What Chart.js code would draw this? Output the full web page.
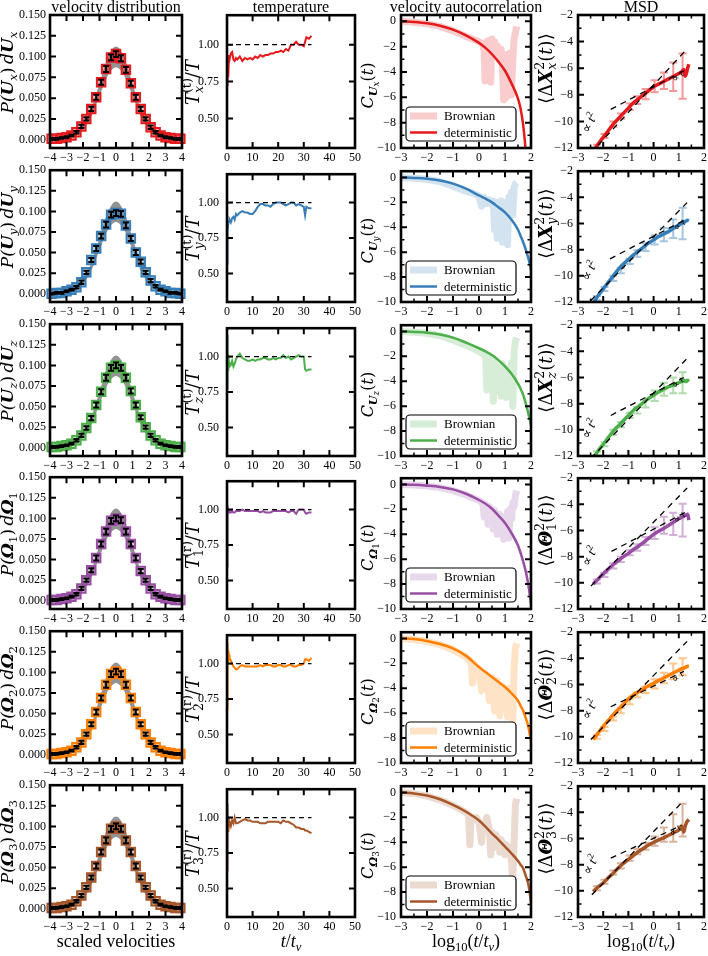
<!DOCTYPE html>
<html>
<head>
<meta charset="utf-8">
<title>velocity statistics</title>
<script src="https://cdn.jsdelivr.net/npm/chart.js@4.4.1/dist/chart.umd.min.js"></script>
<style>
html,body{margin:0;padding:0;background:#fff}
#wrap{position:relative;width:708px;height:956px;overflow:hidden;background:#fff}
#wrap canvas{position:absolute}
</style>
</head>
<body>
<div id="wrap"></div>
<script>
// ---------- labels ----------
const titles = ['velocity distribution', 'temperature', 'velocity autocorrelation', 'MSD']
const compSym = ['U', 'U', 'U', 'Ω', 'Ω', 'Ω']
const compIdx = ['x', 'y', 'z', '1', '2', '3']
const tempSup = ['(t)', '(t)', '(t)', '(r)', '(r)', '(r)']
const msdSym = ['X', 'X', 'X', 'Θ', 'Θ', 'Θ']
const colors = ['#e41a1c', '#377eb8', '#4daf4a', '#984ea3', '#ff7f00', '#a65628']

// ---------- column 1: velocity distribution ----------
const distTicksX = [-4, -3, -2, -1, 0, 1, 2, 3, 4]
const distTicksY = [0, 0.025, 0.05, 0.075, 0.1, 0.125, 0.15]
const distX = [-3.9,-3.6,-3.3,-3.0,-2.7,-2.4,-2.1,-1.8,-1.5,-1.2,-0.9,-0.6,-0.3,0,0.3,0.6,0.9,1.2,1.5,1.8,2.1,2.4,2.7,3.0,3.3,3.6,3.9]
const pUx = [0.001,0.001,0.002,0.003,0.005,0.009,0.016,0.025,0.037,0.051,0.069,0.085,0.099,0.103,0.098,0.084,0.068,0.051,0.037,0.025,0.015,0.009,0.005,0.003,0.002,0.001,0.001]
const pUy = [0.000,0.001,0.001,0.003,0.005,0.008,0.014,0.026,0.041,0.055,0.070,0.084,0.096,0.098,0.097,0.083,0.067,0.050,0.039,0.026,0.016,0.009,0.005,0.003,0.001,0.001,0.000]
const pUz = [0.001,0.001,0.002,0.003,0.005,0.009,0.015,0.024,0.036,0.052,0.068,0.085,0.097,0.100,0.097,0.085,0.069,0.052,0.037,0.025,0.015,0.009,0.005,0.003,0.002,0.001,0.001]
const pW1 = [0.001,0.001,0.002,0.003,0.005,0.008,0.015,0.025,0.037,0.052,0.069,0.084,0.097,0.100,0.098,0.084,0.069,0.052,0.036,0.025,0.015,0.008,0.005,0.003,0.002,0.001,0.001]
const pW2 = [0.001,0.001,0.002,0.003,0.005,0.009,0.015,0.025,0.037,0.052,0.069,0.085,0.098,0.101,0.098,0.085,0.069,0.052,0.037,0.025,0.015,0.009,0.005,0.003,0.002,0.001,0.001]
const pW3 = [0.001,0.001,0.002,0.003,0.005,0.009,0.016,0.026,0.038,0.052,0.069,0.083,0.097,0.100,0.097,0.083,0.069,0.052,0.038,0.026,0.016,0.009,0.005,0.003,0.002,0.001,0.001]
const distErr = [0.001,0.001,0.001,0.001,0.001,0.0015,0.002,0.002,0.0025,0.003,0.003,0.0035,0.0035,0.0035,0.0035,0.0035,0.003,0.003,0.0025,0.002,0.002,0.0015,0.001,0.001,0.001,0.001,0.001]
const bandX = [-4,-3.5,-3,-2.5,-2,-1.5,-1,-0.5,0,0.5,1,1.5,2,2.5,3,3.5,4]
const bandLo = [0.000,0.000,0.001,0.004,0.012,0.028,0.053,0.077,0.087,0.077,0.053,0.028,0.012,0.004,0.001,0.000,0.000]
const bandHi = [0.000,0.001,0.002,0.006,0.017,0.037,0.068,0.099,0.112,0.099,0.068,0.037,0.017,0.006,0.002,0.001,0.000]

// ---------- column 2: temperature ----------
const tempTicksX = [0, 10, 20, 30, 40, 50]
const tempTicksY = [0.5, 0.75, 1.0]
const tGrid = [0,0.1,0.3,0.5,0.8,1,1.5,2,2.5,3,3.5,4,5,6,7,8,9,10,11,12,13,14,15,16,17,18,19,20,21,22,23,24,25,26,27,28,29,30,30.5,31,32,33]
const tTx = [0.93,0.72,0.92,0.78,0.93,0.90,0.94,0.95,0.90,0.89,0.91,0.90,0.92,0.89,0.91,0.90,0.91,0.90,0.92,0.91,0.93,0.92,0.93,0.93,0.94,0.94,0.95,0.95,0.96,0.95,0.97,0.96,1.00,1.00,1.02,1.00,1.00,0.99,1.02,1.05,1.04,1.06]
const tTy = [0.57,0.70,0.80,0.85,0.87,0.88,0.86,0.89,0.90,0.88,0.92,0.91,0.93,0.94,0.93,0.93,0.92,0.92,0.94,0.97,0.99,0.99,0.98,0.98,0.97,0.99,1.00,1.00,1.00,0.99,0.98,0.99,1.00,1.00,0.98,0.99,0.98,0.97,0.91,0.97,0.96,0.96]
const tTz = [1.15,0.77,0.98,0.90,0.96,0.93,0.94,0.97,0.93,0.95,0.98,1.00,1.02,0.99,0.98,0.97,0.97,0.98,0.97,0.98,0.98,0.99,0.99,0.98,0.98,0.99,0.98,0.99,0.99,1.01,0.99,1.00,0.98,0.99,1.00,1.01,1.00,1.00,0.91,0.90,0.91,0.91]
const tT1 = [0.60,0.85,0.96,1.00,0.98,0.99,0.98,0.99,0.98,0.98,0.99,0.99,0.99,1.00,0.99,0.99,0.99,0.99,0.99,0.99,0.98,0.99,0.98,0.98,0.98,0.99,0.99,0.99,0.99,0.99,0.99,0.98,0.99,0.99,0.97,1.00,1.00,1.00,0.98,0.97,0.98,0.98]
const tT2 = [0.68,1.15,1.08,1.02,1.06,1.04,1.02,1.00,0.98,0.97,0.96,0.96,0.98,0.99,0.98,0.98,0.98,0.98,0.98,0.98,0.99,0.98,0.99,0.99,0.99,0.98,0.98,0.99,0.99,0.98,0.98,0.99,0.99,0.98,0.98,0.99,0.99,1.00,1.03,1.03,1.02,1.04]
const tT3 = [1.10,0.62,0.95,0.90,0.96,0.97,0.94,0.98,0.96,1.00,0.96,0.96,0.97,0.98,0.99,0.98,0.98,0.97,0.97,0.97,0.96,0.96,0.96,0.97,0.97,0.97,0.97,0.97,0.96,0.98,0.97,0.97,0.96,0.95,0.93,0.93,0.92,0.92,0.91,0.91,0.90,0.89]
const tempRefX = [0, 33]
const tempRef = [1, 1]

// ---------- column 3: velocity autocorrelation ----------
const logTicksX = [-3, -2, -1, 0, 1, 2]
const logMinorX = [-2.5, -1.5, -0.5, 0.5, 1.5]
const corrTicksY = [0, -2, -4, -6, -8, -10]
const corrMinorY = [-1, -3, -5, -7, -9]
const corrX = [-3,-2.5,-2,-1.5,-1,-0.5,0,0.25,0.5,0.75,1,1.25,1.5,1.6,1.7,1.8,1.9,2]
const cUx = [0,-0.05,-0.15,-0.35,-0.65,-1.1,-1.7,-2.1,-2.6,-3.2,-3.9,-4.9,-6.1,-6.9,-8.2,-10.3,-13,-16]
const cUy = [0,-0.04,-0.1,-0.25,-0.5,-0.9,-1.45,-1.7,-2.0,-2.4,-2.8,-3.4,-4.2,-4.7,-5.2,-5.8,-6.5,-7.4]
const cUz = [0,-0.04,-0.1,-0.25,-0.5,-0.9,-1.35,-1.6,-1.9,-2.3,-2.8,-3.4,-4.2,-4.6,-5.1,-5.8,-6.6,-7.5]
const cW1 = [0,-0.03,-0.1,-0.2,-0.4,-0.75,-1.25,-1.55,-1.95,-2.5,-3.1,-3.9,-4.9,-5.5,-6.2,-7.0,-8.1,-9.6]
const cW2 = [0,-0.05,-0.2,-0.45,-0.8,-1.4,-2.3,-2.7,-3.1,-3.5,-3.9,-4.4,-5.0,-5.4,-5.8,-6.4,-7.1,-8.3]
const cW3 = [0,-0.08,-0.25,-0.55,-1.0,-1.55,-2.25,-2.75,-3.3,-3.8,-4.35,-4.9,-5.5,-5.8,-6.1,-6.7,-7.4,-8.8]
// Brownian runs (light, noisy)
const bUxX = [-3,-2.5,-2,-1.5,-1,-0.5,0,0.15,0.2,0.23,0.27,0.3,0.35,0.4,0.45,0.5,0.55,0.6,0.65,0.7,0.75,0.8,0.85,0.9,0.95,1.0,1.05,1.1,1.15,1.2,1.25,1.3,1.35,1.4,1.45]
const bUx = [0,-0.08,-0.2,-0.4,-0.75,-1.2,-1.6,-1.8,-2.4,-4.7,-2.0,-1.6,-4.6,-1.5,-4.8,-1.4,-2.2,-1.6,-2.6,-1.9,-2.2,-3.0,-2.2,-3.6,-6.2,-2.8,-6.0,-2.6,-3.3,-2.5,-5.8,-3.0,-1.4,-0.9,-0.4]
const bUyX = [-3,-2.5,-2,-1.5,-1,-0.5,-0.2,0,0.1,0.15,0.2,0.3,0.4,0.5,0.55,0.6,0.65,0.7,0.75,0.8,0.85,0.9,0.95,1.0,1.05,1.1,1.15,1.2,1.25,1.3,1.35,1.4,1.45]
const bUy = [0,-0.06,-0.15,-0.35,-0.7,-1.1,-1.3,-1.5,-2.3,-1.7,-1.6,-2.1,-1.8,-2.2,-1.9,-4.2,-2.0,-4.9,-2.4,-3.8,-1.9,-5.2,-2.6,-3.2,-2.0,-5.4,-1.6,-2.4,-1.2,-3.0,-0.8,-0.5,-0.4]
const bUzX = [-3,-2.5,-2,-1.5,-1,-0.5,0,0.25,0.3,0.35,0.4,0.5,0.55,0.6,0.7,0.75,0.8,0.85,0.9,0.95,1.0,1.05,1.1,1.2,1.25,1.3,1.35,1.4,1.45]
const bUz = [0,-0.06,-0.15,-0.35,-0.7,-1.1,-1.6,-1.9,-4.7,-2.0,-2.3,-2.4,-5.6,-2.4,-4.8,-2.8,-3.2,-5.2,-2.6,-4.2,-3.1,-5.3,-3.0,-4.0,-2.5,-6.0,-1.6,-0.8,-0.5]
const bW1X = [-3,-2.5,-2,-1.5,-1,-0.5,0,0.15,0.2,0.25,0.3,0.35,0.4,0.5,0.55,0.6,0.65,0.7,0.8,0.85,0.9,0.95,1.0,1.05,1.1,1.15,1.2,1.25,1.3,1.35,1.4,1.45]
const bW1 = [0,-0.05,-0.12,-0.25,-0.5,-0.85,-1.3,-1.5,-2.6,-1.6,-1.7,-3.2,-1.8,-2.0,-3.6,-2.1,-2.3,-4.0,-2.4,-3.0,-2.6,-4.4,-2.8,-3.4,-2.2,-4.3,-2.0,-2.8,-1.5,-1.8,-0.9,-0.5]
const bW2X = [-3,-2.5,-2,-1.5,-1,-0.5,-0.3,-0.25,-0.2,-0.1,0,0.1,0.2,0.3,0.4,0.5,0.6,0.7,0.8,0.9,1.0,1.1,1.15,1.2,1.3,1.35,1.4,1.45]
const bW2 = [0,-0.08,-0.25,-0.5,-0.9,-1.5,-1.9,-3.6,-2.0,-2.4,-2.5,-4.2,-2.8,-3.0,-5.0,-3.2,-5.8,-3.4,-6.2,-3.8,-4.2,-6.3,-4.0,-4.6,-6.5,-2.5,-0.8,-0.4]
const bW3X = [-3,-2.5,-2,-1.5,-1,-0.5,-0.4,-0.35,-0.3,-0.2,-0.1,0,0.1,0.15,0.2,0.3,0.4,0.45,0.5,0.6,0.65,0.7,0.8,0.85,0.9,1.0,1.05,1.1,1.2,1.3,1.35,1.4,1.45]
const bW3 = [0,-0.1,-0.3,-0.6,-1.05,-1.6,-1.8,-4.2,-2.0,-2.2,-2.0,-2.4,-4.0,-2.6,-2.7,-2.0,-3.0,-5.0,-3.2,-4.4,-3.4,-3.6,-4.8,-3.8,-4.0,-5.0,-4.2,-4.5,-4.4,-7.0,-4.0,-1.0,-0.5]

// ---------- column 4: MSD ----------
const msdTicksY = [-2, -4, -6, -8, -10, -12]
const msdMinorY = [-3, -5, -7, -9, -11]
const msdX = [-2.4,-2.2,-2.0,-1.8,-1.6,-1.4,-1.2,-1.0,-0.8,-0.6,-0.4,-0.2,0,0.2,0.4,0.6,0.8,1.0,1.1,1.2,1.25,1.3,1.35,1.4]
const mUx = [-12.3,-11.7,-11.2,-10.7,-10.2,-9.8,-9.4,-9.0,-8.6,-8.3,-8.0,-7.7,-7.4,-7.2,-7.0,-6.8,-6.6,-6.4,-6.3,-6.1,-6.6,-6.4,-6.0,-5.7]
const mUy = [-12.1,-11.5,-11.0,-10.5,-10.0,-9.5,-9.1,-8.75,-8.4,-8.1,-7.8,-7.5,-7.25,-7.0,-6.8,-6.6,-6.35,-6.1,-6.0,-5.9,-5.85,-5.8,-5.75,-5.8]
const mUz = [-12.2,-11.6,-11.1,-10.6,-10.1,-9.7,-9.3,-8.9,-8.5,-8.2,-7.9,-7.6,-7.35,-7.1,-6.9,-6.7,-6.55,-6.4,-6.3,-6.2,-6.3,-6.3,-6.2,-6.3]
const mW1 = [-10.1,-9.7,-9.3,-8.95,-8.6,-8.3,-8.0,-7.75,-7.45,-7.2,-6.9,-6.6,-6.3,-6.05,-5.85,-5.6,-5.35,-5.1,-5.0,-4.9,-4.85,-4.8,-4.75,-5.2]
const mW2 = [-10.2,-9.7,-9.2,-8.75,-8.3,-7.9,-7.5,-7.1,-6.8,-6.55,-6.3,-6.1,-5.9,-5.7,-5.5,-5.3,-5.1,-4.9,-4.8,-4.75,-4.7,-4.65,-4.6,-4.6]
const mW3 = [-10.05,-9.7,-9.4,-9.0,-8.65,-8.25,-7.9,-7.6,-7.3,-7.0,-6.75,-6.5,-6.3,-6.1,-5.95,-5.75,-5.55,-5.35,-5.05,-5.5,-5.1,-4.8,-4.65,-4.55]
const errX = [-2.25,-1.95,-1.6,-1.3,-0.95,-0.65,-0.32,0.04,0.41,0.78,1.15]
const eUx = [-11.9,-11.1,-10.2,-9.6,-8.9,-8.4,-7.95,-7.35,-6.95,-6.65,-6.6]
const hUx = [0.15,0.15,0.2,0.2,0.25,0.3,0.38,0.45,0.62,1.07,1.7]
const eUy = [-11.7,-11.0,-10.2,-9.6,-8.9,-8.3,-7.8,-7.25,-6.85,-6.4,-6.0]
const hUy = [0.15,0.15,0.2,0.2,0.2,0.25,0.3,0.35,0.5,0.7,1.2]
const eUz = [-11.8,-11.1,-10.2,-9.6,-8.9,-8.5,-8.0,-7.4,-6.9,-6.6,-6.4]
const hUz = [0.15,0.15,0.2,0.2,0.2,0.25,0.3,0.4,0.5,0.6,0.8]
const eW1 = [-9.9,-9.4,-8.7,-8.2,-7.7,-7.3,-6.8,-6.2,-5.6,-5.5,-5.2]
const hW1 = [0.15,0.15,0.2,0.2,0.2,0.25,0.3,0.45,0.65,0.85,1.25]
const eW2 = [-10.0,-9.4,-8.6,-8.0,-7.3,-6.8,-6.4,-5.95,-5.5,-5.0,-4.65]
const hW2 = [0.15,0.15,0.15,0.2,0.2,0.2,0.25,0.35,0.4,0.6,0.65]
const eW3 = [-9.8,-9.3,-8.6,-8.1,-7.5,-7.0,-6.6,-6.2,-5.7,-5.2,-4.6]
const hW3 = [0.15,0.15,0.15,0.2,0.2,0.2,0.25,0.35,0.55,1.05,1.25]
// guide lines: ∝ t² and ∝ t (two end points each)
const sq2X = [[-2.5,1.3],[-2.5,1.33],[-2.5,1.3],[-2.49,1.33],[-2.49,1.33],[-2.45,1.2]]
const sq2Y = [[-12.4,-4.6],[-11.9,-4.4],[-12.2,-4.6],[-10.25,-2.75],[-10.2,-2.7],[-10.3,-3.1]]
const linX = [[-1.7,1.2],[-1.73,1.27],[-1.7,1.2],[-1.67,1.27],[-1.7,1.2],[-1.7,1.1]]
const linY = [[-9.1,-6.2],[-8.7,-5.7],[-8.9,-6.0],[-7.6,-4.6],[-7.7,-5.0],[-7.5,-5.0]]

// ---------- per-row groups ----------
const distRows = [pUx, pUy, pUz, pW1, pW2, pW3]
const tempRows = [tTx, tTy, tTz, tT1, tT2, tT3]
const corrRows = [cUx, cUy, cUz, cW1, cW2, cW3]
const brownX = [bUxX, bUyX, bUzX, bW1X, bW2X, bW3X]
const brownY = [bUx, bUy, bUz, bW1, bW2, bW3]
const msdRows = [mUx, mUy, mUz, mW1, mW2, mW3]
const errCen = [eUx, eUy, eUz, eW1, eW2, eW3]
const errHalf = [hUx, hUy, hUz, hW1, hW2, hW3]

// ---------- layout of the 6 x 4 grid (pixels) ----------
const PL = [50, 227, 401, 578]
const PR = [182, 355, 531, 704]
const PT = [15, 169, 323, 476, 630, 784]
const PH = 133
const PAD_R = 16
const YLAB_OFF = [42, 34, 33, 32]
const YLAB_DY = [-9, 1, 4, -13]
const YLAB_SIZE = [17, 18, 16, 18]
const SERIF = '"Liberation Serif","DejaVu Serif",serif'
const MATH = '"DejaVu Serif","Liberation Serif",serif'

Chart.defaults.font.family = SERIF
Chart.defaults.color = '#000'

const wrap = document.getElementById('wrap')
const pts = (xs, ys) => xs.map((x, i) => ({x: x, y: ys[i]}))
const minus = v => String(v).replace('-', '\u2212')

function tint(hex, a) {
  const n = parseInt(hex.slice(1), 16)
  return 'rgba(' + (n >> 16) + ',' + ((n >> 8) & 255) + ',' + (n & 255) + ',' + a + ')'
}

// rich text: parts = [{t, f, p, up}]  p: sub | sup | ss ; up = stacked superscript
function runRich(ctx, parts, size, fam, draw) {
  let x = 0
  for (const p of parts) {
    const sc = (p.p === 'sub' || p.p === 'sup') ? 0.7 : p.p === 'ss' ? 0.55 : 1
    const dy = p.p === 'sub' ? 0.22 * size : p.p === 'sup' ? -0.38 * size : p.p === 'ss' ? 0.36 * size : 0
    ctx.font = (p.f || '') + ' ' + (size * sc) + 'px ' + fam
    let w = ctx.measureText(p.t).width
    if (draw) ctx.fillText(p.t, x, dy)
    if (p.up !== undefined) {
      ctx.font = (size * 0.7) + 'px ' + fam
      const w2 = ctx.measureText(p.up).width
      if (draw) ctx.fillText(p.up, x, -0.42 * size)
      w = Math.max(w, w2)
    }
    x += w
  }
  return x
}

function rich(ctx, parts, size, cx, cy, ang, fam) {
  fam = fam || SERIF
  ctx.save()
  ctx.translate(cx, cy)
  ctx.rotate(ang || 0)
  ctx.fillStyle = '#000'
  ctx.textAlign = 'left'
  ctx.textBaseline = 'alphabetic'
  const w = runRich(ctx, parts, size, fam, false)
  ctx.translate(-w / 2, size * 0.32)
  runRich(ctx, parts, size, fam, true)
  ctx.restore()
}

function yLabel(c, r) {
  const s = compSym[r], i = compIdx[r], fi = r < 3 ? 'italic' : ''
  if (c === 0) return [{t: 'P(', f: 'italic'}, {t: s, f: 'bold italic'}, {t: i, f: fi, p: 'sub'}, {t: ')\u2009'},
                       {t: 'd', f: 'italic'}, {t: s, f: 'bold italic'}, {t: i, f: fi, p: 'sub'}]
  if (c === 1) return [{t: 'T', f: 'italic'}, {t: i, f: fi, p: 'sub', up: tempSup[r]}, {t: '/'}, {t: 'T', f: 'italic'}]
  if (c === 2) return [{t: 'C', f: 'italic'}, {t: s, f: 'bold italic', p: 'sub'}, {t: i, f: fi, p: 'ss'},
                       {t: '('}, {t: 't', f: 'italic'}, {t: ')'}]
  return [{t: '⟨Δ'}, {t: msdSym[r], f: 'bold italic'}, {t: i, f: fi, p: 'sub', up: '2'},
          {t: '('}, {t: 't', f: 'italic'}, {t: ')⟩'}]
}

function xLabel(c) {
  if (c === 0) return [{t: 'scaled velocities'}]
  if (c === 1) return [{t: 't', f: 'italic'}, {t: '/'}, {t: 't', f: 'italic'}, {t: 'ν', f: 'italic', p: 'sub'}]
  return [{t: 'log'}, {t: '10', p: 'sub'}, {t: '('}, {t: 't', f: 'italic'}, {t: '/'}, {t: 't', f: 'italic'},
          {t: 'ν', f: 'italic', p: 'sub'}, {t: ')'}]
}

function axis(min, max, ticks, fmt, pad, isX, size) {
  return {
    type: 'linear', min: min, max: max,
    afterBuildTicks: s => { s.ticks = ticks.map(v => ({value: v})) },
    afterFit: s => { if (isX) s.height = size; else s.width = size },
    grid: {display: false, drawTicks: false},
    border: {display: false},
    ticks: {color: '#000', font: {family: SERIF, size: 12}, padding: pad, autoSkip: false,
            maxRotation: 0, minRotation: 0, callback: v => fmt(v)}
  }
}

function drawErr(chart, e) {
  const ctx = chart.ctx, xs = chart.scales.x, ys = chart.scales.y, a = chart.chartArea
  ctx.save()
  ctx.beginPath()
  ctx.rect(a.left, a.top, a.right - a.left, a.bottom - a.top)
  ctx.clip()
  ctx.strokeStyle = e.color
  ctx.lineWidth = e.w
  ctx.beginPath()
  for (let i = 0; i < e.x.length; i++) {
    const px = xs.getPixelForValue(e.x[i])
    const y1 = ys.getPixelForValue(e.y[i] - e.h[i])
    const y2 = ys.getPixelForValue(e.y[i] + e.h[i])
    ctx.moveTo(px, y1); ctx.lineTo(px, y2)
    ctx.moveTo(px - e.cap, y1); ctx.lineTo(px + e.cap, y1)
    ctx.moveTo(px - e.cap, y2); ctx.lineTo(px + e.cap, y2)
  }
  ctx.stroke()
  ctx.restore()
}

function roundBox(ctx, x, y, w, h, rad) {
  ctx.beginPath()
  ctx.moveTo(x + rad, y)
  ctx.arcTo(x + w, y, x + w, y + h, rad)
  ctx.arcTo(x + w, y + h, x, y + h, rad)
  ctx.arcTo(x, y + h, x, y, rad)
  ctx.arcTo(x, y, x + w, y, rad)
  ctx.closePath()
}

// frame, inward ticks, labels, legend and notes
function decor(c, r, info, top) {
  return {
    id: 'decor',
    beforeDatasetDraw(chart, args) {
      if (info.err && info.err.before === args.index) drawErr(chart, info.err)
    },
    afterDatasetDraw(chart, args) {
      if (info.err && info.err.after === args.index) drawErr(chart, info.err)
    },
    afterDraw(chart) {
      const ctx = chart.ctx, a = chart.chartArea, xs = chart.scales.x, ys = chart.scales.y
      ctx.save()
      ctx.strokeStyle = '#000'
      const tick = (vals, len, lw, isX) => {
        ctx.lineWidth = lw
        ctx.beginPath()
        for (const v of vals) {
          if (isX) {
            const p = xs.getPixelForValue(v)
            if (p <= a.left + 1 || p >= a.right - 1) continue
            ctx.moveTo(p, a.top); ctx.lineTo(p, a.top + len)
            ctx.moveTo(p, a.bottom); ctx.lineTo(p, a.bottom - len)
          } else {
            const p = ys.getPixelForValue(v)
            if (p <= a.top + 1 || p >= a.bottom - 1) continue
            ctx.moveTo(a.left, p); ctx.lineTo(a.left + len, p)
            ctx.moveTo(a.right, p); ctx.lineTo(a.right - len, p)
          }
        }
        ctx.stroke()
      }
      tick(xs.ticks.map(t => t.value), 6, 2, true)
      tick(ys.ticks.map(t => t.value), 6, 2, false)
      if (info.minorX) tick(info.minorX, 3.5, 1.5, true)
      if (info.minorY) tick(info.minorY, 3.5, 1.5, false)
      ctx.lineWidth = 2.6
      ctx.strokeRect(a.left, a.top, a.right - a.left, a.bottom - a.top)

      // legend inside the axes (lower left)
      if (info.legend) {
        const bw = 110, bh = 34, bx = a.left + 5, by = a.bottom - 7 - bh
        roundBox(ctx, bx, by, bw, bh, 4)
        ctx.fillStyle = '#fff'
        ctx.fill()
        ctx.lineWidth = 1.2
        ctx.strokeStyle = '#000'
        ctx.stroke()
        const ds = chart.data.datasets
        info.legend.forEach((k, i) => {
          const y = by + 9 + i * 16.5
          ctx.strokeStyle = ds[k].borderColor
          ctx.lineWidth = ds[k].borderWidth
          ctx.beginPath(); ctx.moveTo(bx + 4, y); ctx.lineTo(bx + 31, y); ctx.stroke()
          ctx.fillStyle = '#000'
          ctx.font = '13px ' + SERIF
          ctx.textBaseline = 'middle'
          ctx.textAlign = 'left'
          ctx.fillText(ds[k].label, bx + 38, y + 1)
        })
      }
      // notes in data coordinates
      if (info.notes) {
        for (const n of info.notes) {
          rich(ctx, n.parts, n.size, xs.getPixelForValue(n.x), ys.getPixelForValue(n.y), n.ang)
        }
      }
      const cx = (a.left + a.right) / 2
      rich(ctx, yLabel(c, r), YLAB_SIZE[c], 50 - YLAB_OFF[c], (a.top + a.bottom) / 2 + YLAB_DY[c], -Math.PI / 2, MATH)
      if (r === 0) rich(ctx, [{t: titles[c]}], 16, cx, 7 - top, 0)
      if (r === 5) rich(ctx, xLabel(c), 18, cx, 941 - top, 0)
      ctx.restore()
    }
  }
}

function cell(c, r, datasets, scales, info) {
  const top = r === 0 ? 0 : PT[r] - 10
  const bottom = r === 5 ? 956 : PT[r] + PH + 24
  const left = PL[c] - 50
  const width = PR[c] + PAD_R - left
  const height = bottom - top
  const cv = document.createElement('canvas')
  cv.width = width
  cv.height = height
  cv.style.left = left + 'px'
  cv.style.top = top + 'px'
  cv.style.width = width + 'px'
  cv.style.height = height + 'px'
  wrap.appendChild(cv)
  new Chart(cv, {
    type: 'line',
    data: {datasets: datasets},
    options: {
      responsive: false,
      animation: false,
      devicePixelRatio: 1,
      layout: {autoPadding: false,
               padding: {left: 0, right: PAD_R, top: PT[r] - top, bottom: bottom - (PT[r] + PH) - 24}},
      plugins: {legend: {display: false}, tooltip: {enabled: false}},
      scales: scales
    },
    plugins: [decor(c, r, info, top)]
  })
}

for (let r = 0; r < 6; r++) {
  const col = colors[r]

  // velocity distribution
  cell(0, r, [
    {data: pts(distX, distRows[r]), showLine: false, pointStyle: 'rect', pointRadius: 6, pointBorderWidth: 2,
     pointBorderColor: col, pointBackgroundColor: tint(col, 0.35), clip: false},
    {data: pts(bandX, bandLo), borderWidth: 0, pointRadius: 0, cubicInterpolationMode: 'monotone', fill: false},
    {data: pts(bandX, bandHi), borderWidth: 0, pointRadius: 0, cubicInterpolationMode: 'monotone',
     fill: '-1', backgroundColor: 'rgba(135,135,135,0.9)'}
  ], {
    x: axis(-4, 4, distTicksX, v => minus(v), 3, true, 24),
    y: axis(-0.01, 0.15, distTicksY, v => v.toFixed(3), 4, false, 50)
  }, {err: {after: 0, x: distX, y: distRows[r], h: distErr, color: '#000', w: 2, cap: 3}})

  // temperature
  cell(1, r, [
    {data: pts(tempRefX, tempRef), borderColor: '#000', borderWidth: 1.3, borderDash: [5, 4], pointRadius: 0},
    {data: pts(tGrid, tempRows[r]), borderColor: col, borderWidth: 2, pointRadius: 0}
  ], {
    x: axis(0, 50, tempTicksX, v => minus(v), 3, true, 24),
    y: axis(0.3, 1.2, tempTicksY, v => v.toFixed(2), 8, false, 50)
  }, {})

  // velocity autocorrelation
  cell(2, r, [
    {label: 'deterministic', data: pts(corrX, corrRows[r]), borderColor: col, borderWidth: 2.5, pointRadius: 0,
     cubicInterpolationMode: 'monotone'},
    {label: 'Brownian', data: pts(brownX[r], brownY[r]), borderColor: tint(col, 0.22), borderWidth: 7,
     pointRadius: 0, borderJoinStyle: 'round'}
  ], {
    x: axis(-3, 2, logTicksX, v => minus(v), 3, true, 24),
    y: axis(-10, 0.5, corrTicksY, v => minus(v), 5, false, 50)
  }, {minorX: logMinorX, minorY: corrMinorY, legend: [1, 0]})

  // MSD
  cell(3, r, [
    {data: pts(sq2X[r], sq2Y[r]), borderColor: '#000', borderWidth: 1.3, borderDash: [6, 5], pointRadius: 0},
    {data: pts(linX[r], linY[r]), borderColor: '#000', borderWidth: 1.3, borderDash: [6, 5], pointRadius: 0},
    {data: pts(msdX, msdRows[r]), borderColor: col, borderWidth: 3.5, pointRadius: 0,
     cubicInterpolationMode: 'monotone'}
  ], {
    x: axis(-3, 2, logTicksX, v => minus(v), 3, true, 24),
    y: axis(-12, -2, msdTicksY, v => minus(v), 5, false, 50)
  }, {
    minorX: logMinorX, minorY: msdMinorY,
    err: {before: 2, x: errX, y: errCen[r], h: errHalf[r], color: tint(col, 0.45), w: 2, cap: 4},
    notes: [
      {parts: [{t: '∝ '}, {t: 't', f: 'italic'}, {t: '2', p: 'sup'}], size: 13,
       x: sq2X[r][0] - 0.05, y: sq2Y[r][0] + 2.3, ang: -1.13},
      {parts: [{t: '∝ '}, {t: 't', f: 'italic'}], size: 10,
       x: linX[r][1] - 0.25, y: linY[r][1] - 0.4, ang: -0.7}
    ]
  })
}
</script>
</body>
</html>
